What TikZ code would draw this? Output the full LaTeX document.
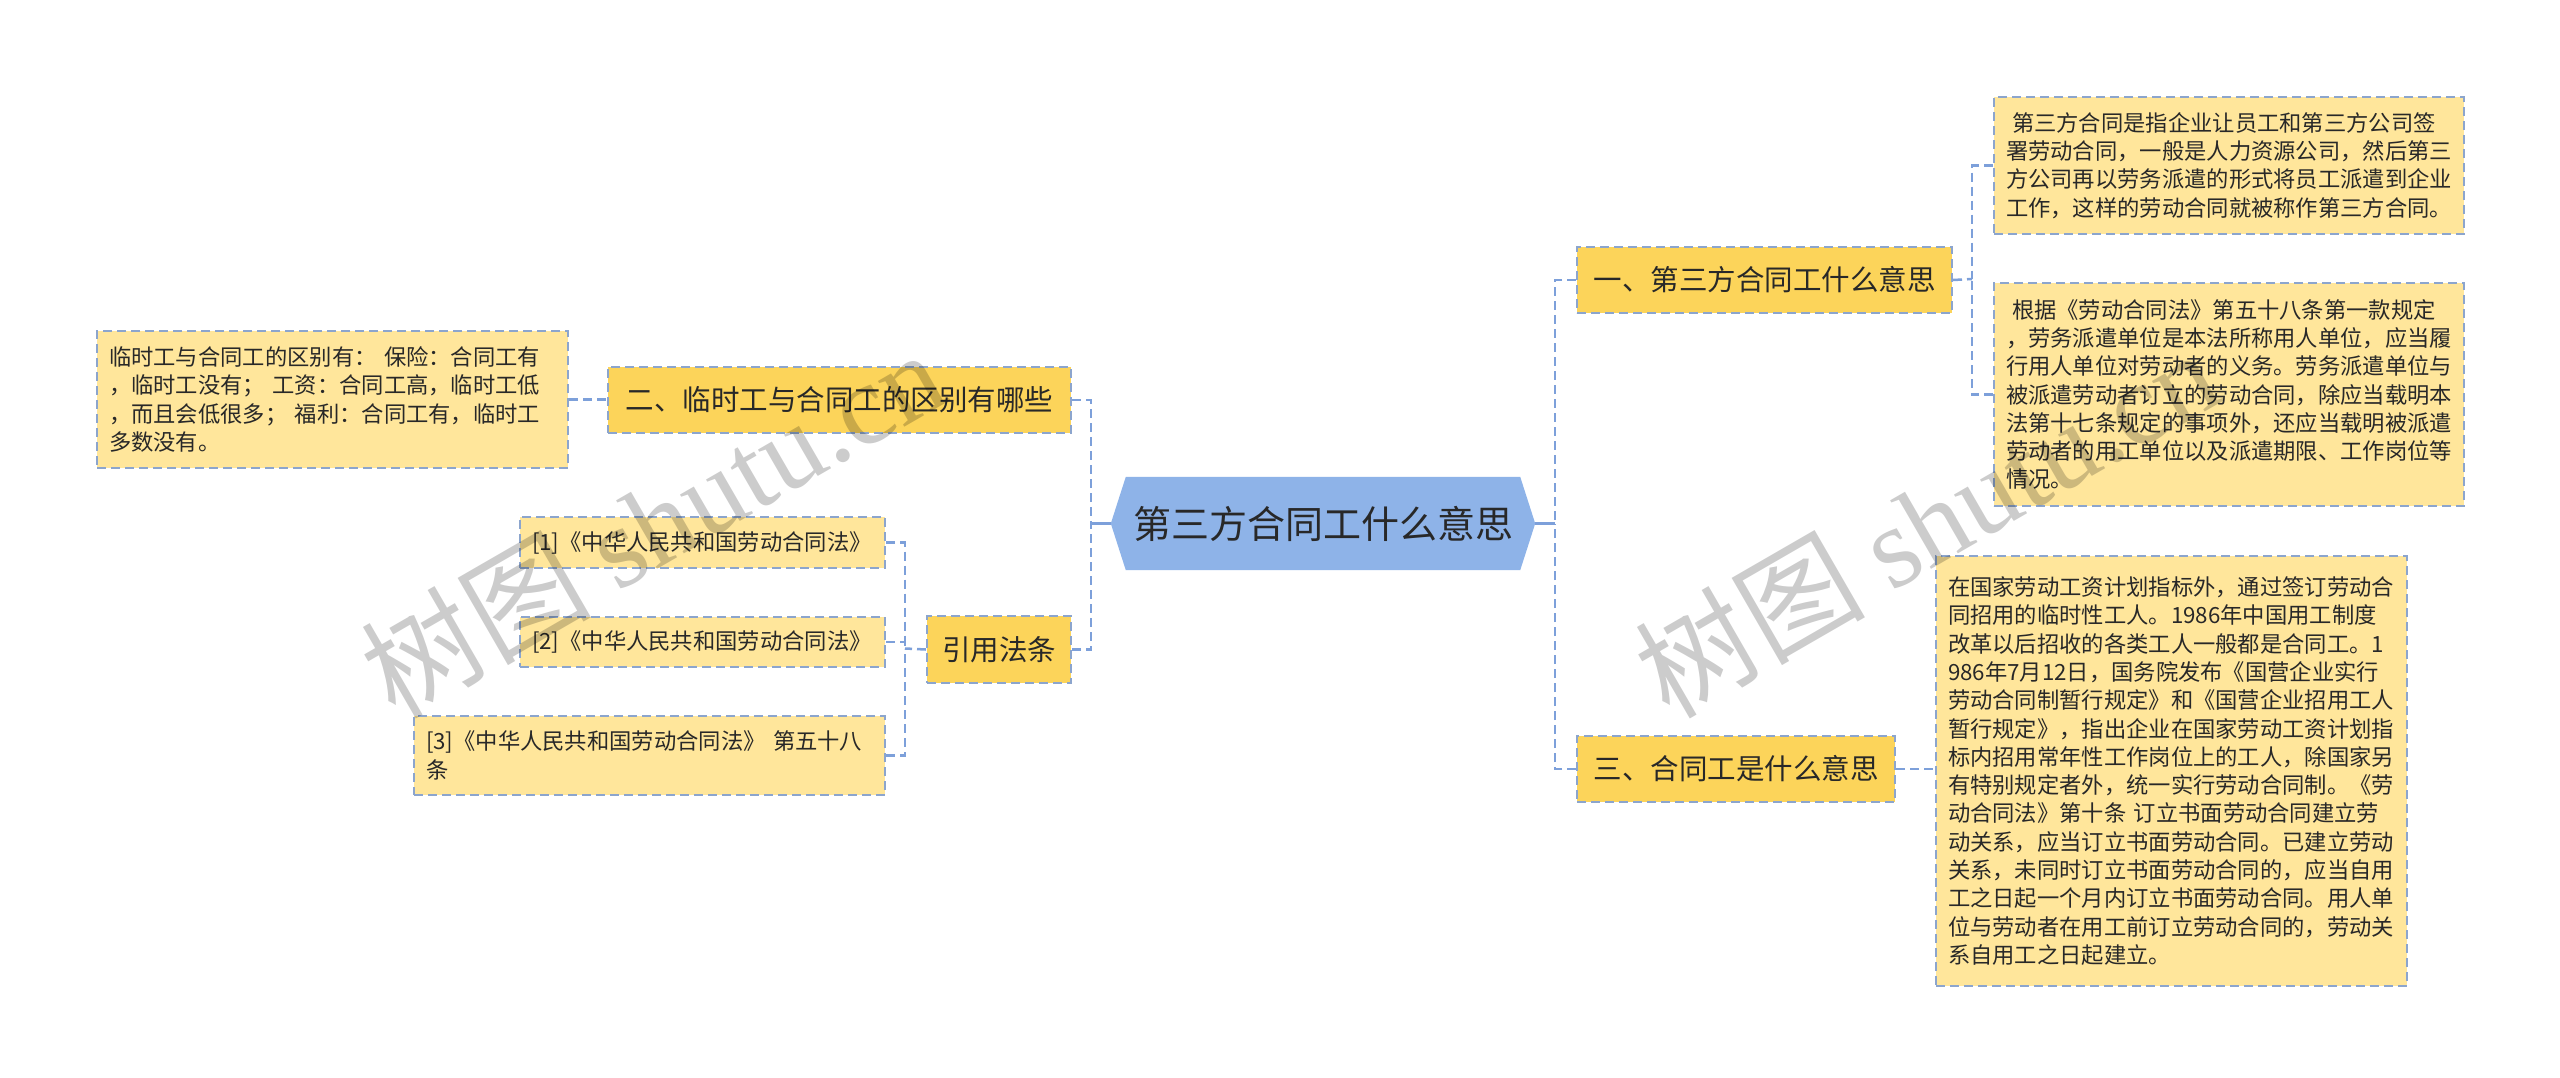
\documentclass[tikz,border=0pt]{standalone}
\usepackage{fontspec}
\setmainfont{Noto Sans CJK SC}
\newfontfamily\wmserif{Liberation Serif}
\usetikzlibrary{backgrounds}
\definecolor{leafc}{RGB}{255,230,155}
\definecolor{branchc}{RGB}{252,212,90}
\definecolor{rootc}{RGB}{142,179,232}
\definecolor{bordc}{RGB}{140,165,205}
\definecolor{connc}{RGB}{125,160,218}
\definecolor{txtc}{RGB}{40,40,40}
\begin{document}
\begin{tikzpicture}[x=1pt,y=-1pt,
 box/.style={draw=bordc, line width=2pt, dash pattern=on 9pt off 5pt, text=txtc, anchor=north west, inner ysep=0pt},
 leaf/.style={box, fill=leafc, inner xsep=12pt, align=left, font=\fontsize{22.3}{28.3}\selectfont},
 branch/.style={box, fill=branchc, inner xsep=0pt, align=center, font=\fontsize{28.5}{34}\selectfont},
 conn/.style={draw=connc, line width=2.5pt, dash pattern=on 9pt off 5pt},
 connsolid/.style={draw=connc, line width=2.5pt},
 wm/.style={rotate=30, text=black, opacity=0.2, font=\fontsize{115}{125}\selectfont}
]
\useasboundingbox (0,0) rectangle (2560,1077);

% root
\node[inner sep=0pt, minimum width=424pt, minimum height=93pt, text=txtc,
      font=\fontsize{38}{44}\selectfont] (root) at (1323,523.5) {第三方合同工什么意思};
\begin{scope}[on background layer]
\fill[white] (0,0) rectangle (2560,1077);
\fill[rootc] (root.west) -- ([xshift=15pt]root.north west) -- ([xshift=-15pt]root.north east)
  -- (root.east) -- ([xshift=-15pt]root.south east) -- ([xshift=15pt]root.south west) -- cycle;
\end{scope}

% branches
\node[branch, minimum width=375pt, minimum height=66pt] (b1) at (1576,246) {一、第三方合同工什么意思};
\node[branch, minimum width=318pt, minimum height=66pt] (b3) at (1576,735) {三、合同工是什么意思};
\node[branch, minimum width=463pt, minimum height=66pt] (b2) at (607,366) {二、临时工与合同工的区别有哪些};
\node[branch, minimum width=144pt, minimum height=67pt] (b4) at (926,615) {引用法条};

% right leaves
\node[leaf, text width=446pt, minimum height=137pt] (r1) at (1993,96) {\hspace*{6pt}第三方合同是指企业让员工和第三方公司签\\
署劳动合同，一般是人力资源公司，然后第三\\
方公司再以劳务派遣的形式将员工派遣到企业\\
工作，这样的劳动合同就被称作第三方合同。};
\node[leaf, text width=446pt, minimum height=223pt] (r2) at (1993,282) {\hspace*{6pt}根据《劳动合同法》第五十八条第一款规定\\
，劳务派遣单位是本法所称用人单位，应当履\\
行用人单位对劳动者的义务。劳务派遣单位与\\
被派遣劳动者订立的劳动合同，除应当载明本\\
法第十七条规定的事项外，还应当载明被派遣\\
劳动者的用工单位以及派遣期限、工作岗位等\\
情况。};
\node[leaf, text width=447pt, minimum height=430pt] (r3) at (1935,555) {在国家劳动工资计划指标外，通过签订劳动合\\
同招用的临时性工人。1986年中国用工制度\\
改革以后招收的各类工人一般都是合同工。1\\
986年7月12日，国务院发布《国营企业实行\\
劳动合同制暂行规定》和《国营企业招用工人\\
暂行规定》，指出企业在国家劳动工资计划指\\
标内招用常年性工作岗位上的工人，除国家另\\
有特别规定者外，统一实行劳动合同制。《劳\\
动合同法》第十条 订立书面劳动合同建立劳\\
动关系，应当订立书面劳动合同。已建立劳动\\
关系，未同时订立书面劳动合同的，应当自用\\
工之日起一个月内订立书面劳动合同。用人单\\
位与劳动者在用工前订立劳动合同的，劳动关\\
系自用工之日起建立。};

% left leaves
\node[leaf, text width=447pt, minimum height=137pt] (l1) at (96,330) {临时工与合同工的区别有： 保险：合同工有\\
，临时工没有； 工资：合同工高，临时工低\\
，而且会低很多； 福利：合同工有，临时工\\
多数没有。};
\node[leaf, text width=341pt, minimum height=51pt] (c1) at (519,516) {[1]《中华人民共和国劳动合同法》};
\node[leaf, text width=341pt, minimum height=50pt] (c2) at (519,616) {[2]《中华人民共和国劳动合同法》};
\node[leaf, text width=447pt, minimum height=79pt] (c3) at (413,715) {[3]《中华人民共和国劳动合同法》 第五十八\\
条};

% junctions
\coordinate (jR) at (1555,523.5);
\coordinate (jL) at (1091,523.5);
\coordinate (j1) at (1972,279);
\coordinate (jC) at (905,648.5);

% connectors
\draw[connsolid] (root.east) -- (jR);
\draw[conn] (b1.west) -| (jR);
\draw[conn] (b3.west) -| (jR);
\draw[conn] (b1.east) -- (j1);
\draw[conn] (r1.west) -| (j1);
\draw[conn] (r2.west) -| (j1);
\draw[conn] (b3.east) -- (b3.east -| r3.west);

\draw[connsolid] (root.west) -- (jL);
\draw[conn] (b2.east) -| (jL);
\draw[conn] (b4.east) -| (jL);
\draw[conn] (l1.east) -- (l1.east -| b2.west);
\draw[conn] (b4.west) -- (jC);
\draw[conn] (c1.east) -| (jC);
\draw[conn] (c2.east) -| (jC);
\draw[conn] (c3.east) -| (jC);

% watermarks
\node[wm] (wm1) at (652,522) {树图 {\wmserif shutu.cn}};
\node[wm] (wm2) at (1926,522) {树图 {\wmserif shutu.cn}};
\end{tikzpicture}
\end{document}
